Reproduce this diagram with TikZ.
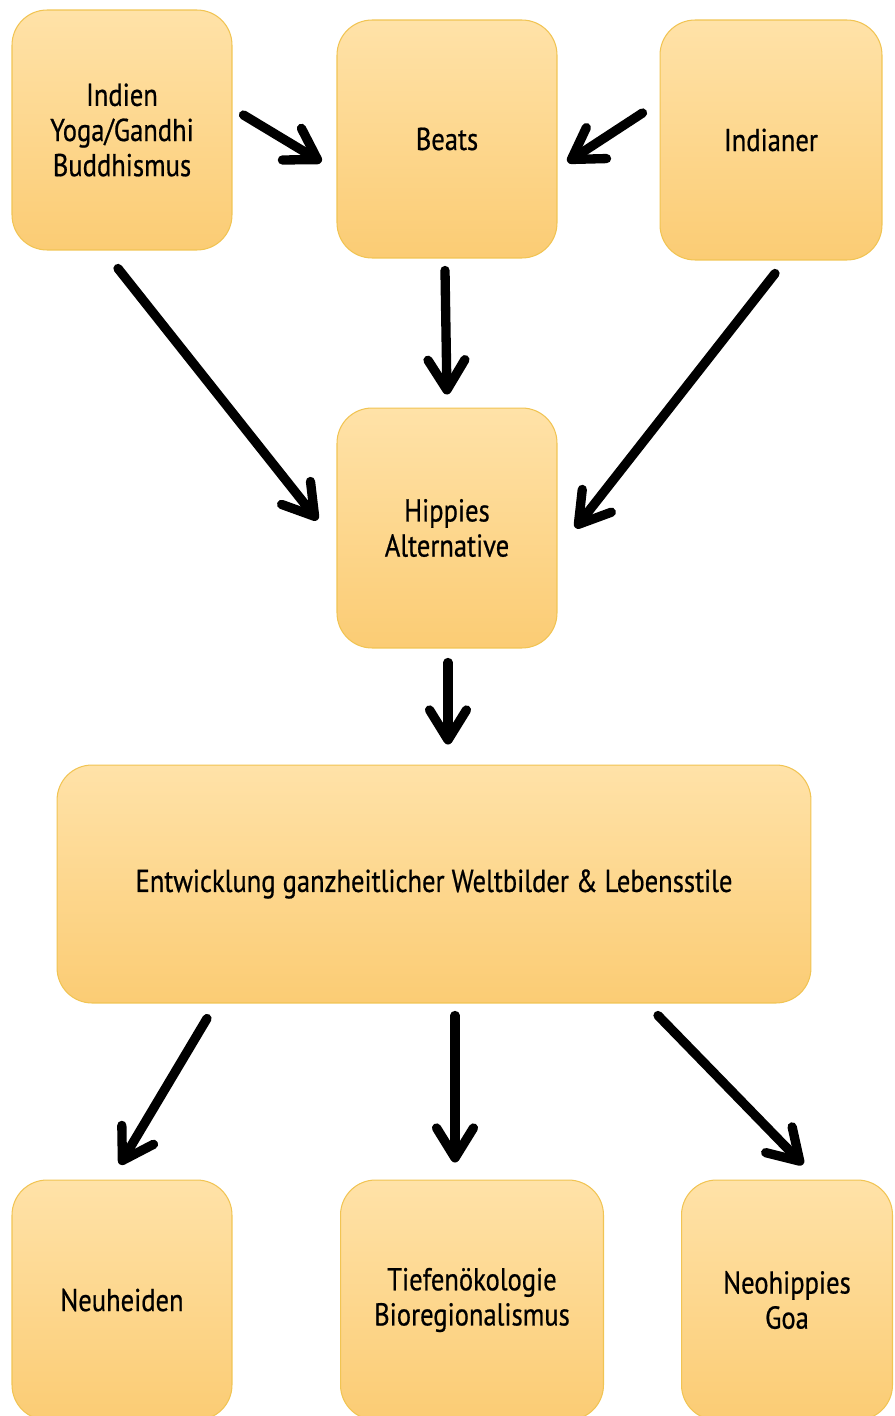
\documentclass[tikz,border=0pt]{standalone}
\usepackage{fontspec}
\setmainfont[FakeStretch=0.84,FakeBold=0.6]{PT Sans}
\usetikzlibrary{arrows.meta}
\definecolor{boxtop}{HTML}{FFE2A8}
\definecolor{boxbot}{HTML}{FBCC74}
\definecolor{boxline}{HTML}{F1C453}
\begin{document}
\begin{tikzpicture}
    [x=0.02cm,y=-0.02cm,
    box/.style={rectangle,rounded corners=0.7cm,draw=boxline,line width=0.6pt,
        top color=boxtop,bottom color=boxbot,align=center,
        font=\fontsize{18}{20}\selectfont,inner sep=0pt},
    flow/.style={line width=5.3pt,line cap=round,
        -{Straight Barb[length=17pt,width=21pt,round]}}]
    \useasboundingbox (0,0) rectangle (894,1416);
    %top row
    \node[box,minimum width=4.4cm,minimum height=4.8cm] (indien) at (122,130)
        {Indien\\Yoga/Gandhi\\Buddhismus};
    \node[box,minimum width=4.4cm,minimum height=4.76cm] (beats) at (447,139) {Beats};
    \node[box,minimum width=4.44cm,minimum height=4.8cm] (indianer) at (771,140) {Indianer};
    %middle
    \node[box,minimum width=4.4cm,minimum height=4.8cm] (hippies) at (447,528)
        {Hippies\\Alternative};
    \node[box,minimum width=15.08cm,minimum height=4.76cm] (entw) at (434,884)
        {Entwicklung ganzheitlicher Weltbilder \& Lebensstile};
    %bottom row
    \node[box,minimum width=4.4cm,minimum height=4.8cm] (neuheiden) at (122,1300) {Neuheiden};
    \node[box,minimum width=5.26cm,minimum height=4.8cm] (tiefen) at (472,1300)
        {Tiefenökologie\\Bioregionalismus};
    \node[box,minimum width=4.22cm,minimum height=4.8cm] (neohippies) at (787,1300)
        {Neohippies\\Goa};
    %arrows
    \draw[flow] ([shift={(11,-15)}]indien.east) -- ([shift={(-15,23)}]beats.west);
    \draw[flow] ([shift={(-17,-27)}]indianer.west) -- ([shift={(10,23)}]beats.east);
    \draw[flow] ([shift={(-2,12)}]beats.south) -- ([shift={(0,-13)}]hippies.north);
    \draw[flow] ([shift={(-4,18)}]indien.south) -- ([shift={(-19,-8)}]hippies.west);
    \draw[flow] ([shift={(4,13)}]indianer.south) -- ([shift={(18,0)}]hippies.east);
    \draw[flow] ([shift={(1,14)}]hippies.south) -- ([shift={(14,-20)}]entw.north);
    \draw[flow] ([shift={(-227,15)}]entw.south) -- ([shift={(-2,-15)}]neuheiden.north);
    \draw[flow] ([shift={(21,12)}]entw.south) -- ([shift={(-17,-17)}]tiefen.north);
    \draw[flow] ([shift={(224,12)}]entw.south) -- ([shift={(16,-15)}]neohippies.north);
\end{tikzpicture}
\end{document}
